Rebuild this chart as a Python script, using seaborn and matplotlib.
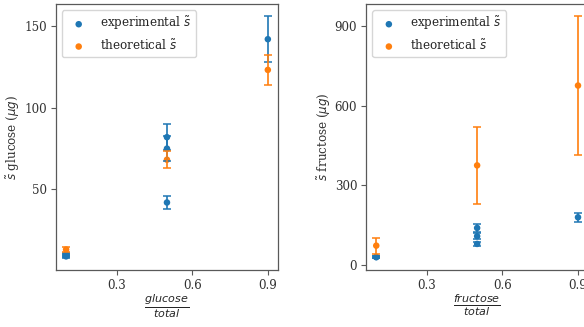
import numpy as np
import matplotlib
matplotlib.use("Agg")
import matplotlib.pyplot as plt
import seaborn as sns

# glucose panel
glu_exp_x = [0.1, 0.1, 0.1, 0.5, 0.5, 0.5, 0.9]
glu_exp_y = [9.0, 9.5, 10.0, 82.0, 75.0, 42.0, 142.0]
glu_exp_err = [1.0, 1.0, 1.0, 8.0, 7.5, 4.2, 14.0]
glu_th_x = [0.1, 0.5, 0.9]
glu_th_y = [13.2, 68.2, 123.2]
glu_th_err = [1.3, 5.3, 9.3]

# fructose panel
fru_exp_x = [0.1, 0.1, 0.5, 0.5, 0.5, 0.9]
fru_exp_y = [30.0, 31.0, 140.0, 109.0, 80.0, 180.0]
fru_exp_err = [3.0, 3.0, 14.0, 11.0, 8.0, 18.0]
fru_th_x = [0.1, 0.5, 0.9]
fru_th_y = [73.5, 375.0, 675.0]
fru_th_err = [30.0, 145.0, 260.0]

sns.set_theme(style="ticks")
plt.rcParams['font.family'] = ['DejaVu Serif']
plt.rcParams['font.size'] = 8.6
plt.rcParams['axes.edgecolor'] = '0.35'
plt.rcParams['axes.linewidth'] = 0.9
plt.rcParams['xtick.color'] = '0.35'
plt.rcParams['ytick.color'] = '0.35'
plt.rcParams['xtick.labelcolor'] = '0.2'
plt.rcParams['ytick.labelcolor'] = '0.2'

blue = "#1f77b4"
orange = "#ff7f0e"

fig = plt.figure(figsize=(5.84, 3.27), dpi=100)
ax1 = fig.add_axes([0.0959, 0.174, 0.380, 0.813])
ax2 = fig.add_axes([0.627, 0.174, 0.380, 0.813])


def panel(ax, ex, ey, ee, tx, ty, te, name, yticks):
    ax.errorbar(ex, ey, yerr=ee, fmt='none', ecolor=blue, capsize=3, elinewidth=1.2,
                capthick=1.1)
    ax.errorbar(tx, ty, yerr=te, fmt='none', ecolor=orange, capsize=3, elinewidth=1.2,
                capthick=1.1)
    sns.scatterplot(x=ex, y=ey, color=blue, s=22, edgecolor='none', ax=ax,
                    label=r"experimental $\tilde{s}$")
    sns.scatterplot(x=tx, y=ty, color=orange, s=22, edgecolor='none', ax=ax,
                    label=r"theoretical $\tilde{s}$")
    ax.set_xticks([0.3, 0.6, 0.9])
    ax.set_yticks(yticks)
    ax.set_xlabel(r"$\frac{%s}{total}$" % name, fontsize=11.5, labelpad=0)
    ax.set_ylabel(r"$\tilde{s}$ %s ($\mu g$)" % name, fontsize=8.6, color='0.2',
                  labelpad=1.5)
    ax.tick_params(labelsize=8.6, length=3.5, width=0.8, pad=3)
    for s in ax.spines.values():
        s.set_visible(True)
    ax.legend(loc="upper left", fontsize=8.6, frameon=True, markerscale=1.0)


panel(ax1, glu_exp_x, glu_exp_y, glu_exp_err, glu_th_x, glu_th_y, glu_th_err,
      "glucose", [50, 100, 150])
panel(ax2, fru_exp_x, fru_exp_y, fru_exp_err, fru_th_x, fru_th_y, fru_th_err,
      "fructose", [0, 300, 600, 900])

fig.savefig("out.png", dpi=100)
